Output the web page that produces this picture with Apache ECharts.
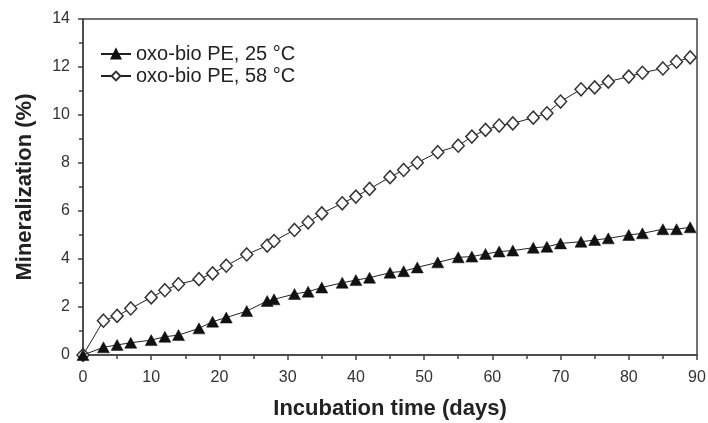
<!DOCTYPE html>
<html>
<head>
<meta charset="utf-8">
<script src="https://cdn.jsdelivr.net/npm/echarts@6/dist/echarts.min.js"></script>
<style>
html,body{margin:0;padding:0;background:#fff;}
#chart{width:708px;height:423px;}
</style>
</head>
<body>
<div id="chart"></div>
<script>
var days = [0,3,5,7,10,12,14,17,19,21,24,27,28,31,33,35,38,40,42,45,47,49,52,55,57,59,61,63,66,68,70,73,75,77,80,82,85,87,89];
var pe25 = [0,0.32,0.42,0.51,0.62,0.76,0.83,1.11,1.39,1.56,1.83,2.25,2.32,2.54,2.64,2.81,3.01,3.12,3.22,3.43,3.49,3.65,3.86,4.07,4.10,4.21,4.31,4.35,4.47,4.51,4.65,4.72,4.79,4.86,5.00,5.07,5.24,5.24,5.32];
var pe58 = [0,1.43,1.63,1.94,2.40,2.70,2.95,3.16,3.40,3.72,4.19,4.56,4.75,5.21,5.53,5.90,6.32,6.60,6.92,7.41,7.71,8.01,8.45,8.72,9.10,9.38,9.56,9.65,9.89,10.07,10.56,11.07,11.15,11.39,11.60,11.76,11.94,12.22,12.40];
var seriesNames = ['oxo-bio PE, 25 °C', 'oxo-bio PE, 58 °C'];
var xTicks = [0,10,20,30,40,50,60,70,80,90];
var yTicks = [0,2,4,6,8,10,12,14];

function pairs(xs, ys){ return xs.map(function(x,i){ return [x, ys[i]]; }); }

var FONT = 'Liberation Sans, Arial, sans-serif';
var chart = echarts.init(document.getElementById('chart'), null, {renderer:'canvas'});
chart.setOption({
  animation: false,
  backgroundColor: '#fff',
  grid: {left: 83, right: 11, top: 19, bottom: 68, containLabel: false, outerBoundsMode: 'none', show: true, borderColor: '#444', borderWidth: 1.5, backgroundColor: 'transparent'},
  legend: {
    orient: 'vertical', left: 95, top: 39, itemWidth: 30, itemHeight: 11, itemGap: 2,
    data: seriesNames,
    textStyle: {fontFamily: FONT, fontSize: 20, color: '#222'}
  },
  xAxis: {
    type: 'value', min: xTicks[0], max: xTicks[xTicks.length-1], interval: 10,
    name: 'Incubation time (days)', nameLocation: 'middle', nameGap: 43,
    nameTextStyle: {fontFamily: FONT, fontSize: 22, fontWeight: 'bold', color: '#222'},
    axisLine: {show: true, lineStyle: {color: '#444', width: 1.5}},
    axisTick: {show: true, inside: false, length: 5, lineStyle: {color: '#444', width: 1.5}},
    minorTick: {show: true, splitNumber: 2, length: 4, lineStyle: {color: '#444', width: 1.5}},
    axisLabel: {fontFamily: FONT, fontSize: 16, color: '#333', margin: 15},
    splitLine: {show: false}
  },
  yAxis: {
    type: 'value', min: yTicks[0], max: yTicks[yTicks.length-1], interval: 2,
    name: 'Mineralization (%)', nameLocation: 'middle', nameGap: 47,
    nameTextStyle: {fontFamily: FONT, fontSize: 22, fontWeight: 'bold', color: '#222'},
    axisLine: {show: true, lineStyle: {color: '#444', width: 1.5}},
    axisTick: {show: true, inside: false, length: 5, lineStyle: {color: '#444', width: 1.5}},
    minorTick: {show: true, splitNumber: 2, length: 4, lineStyle: {color: '#444', width: 1.5}},
    axisLabel: {fontFamily: FONT, fontSize: 16, color: '#333', margin: 13},
    splitLine: {show: false}
  },
  series: [
    {
      name: seriesNames[0], type: 'line', data: pairs(days, pe25),
      symbol: 'triangle', symbolSize: [12, 11], showAllSymbol: true,
      lineStyle: {color: '#222', width: 1},
      itemStyle: {color: '#111', borderColor: '#111', borderWidth: 0.5},
      z: 3
    },
    {
      name: seriesNames[1], type: 'line', data: pairs(days, pe58),
      symbol: 'diamond', symbolSize: [12, 13], showAllSymbol: true,
      lineStyle: {color: '#222', width: 1},
      itemStyle: {color: '#fff', borderColor: '#333', borderWidth: 1.5},
      z: 2
    }
  ]
});
</script>
</body>
</html>
